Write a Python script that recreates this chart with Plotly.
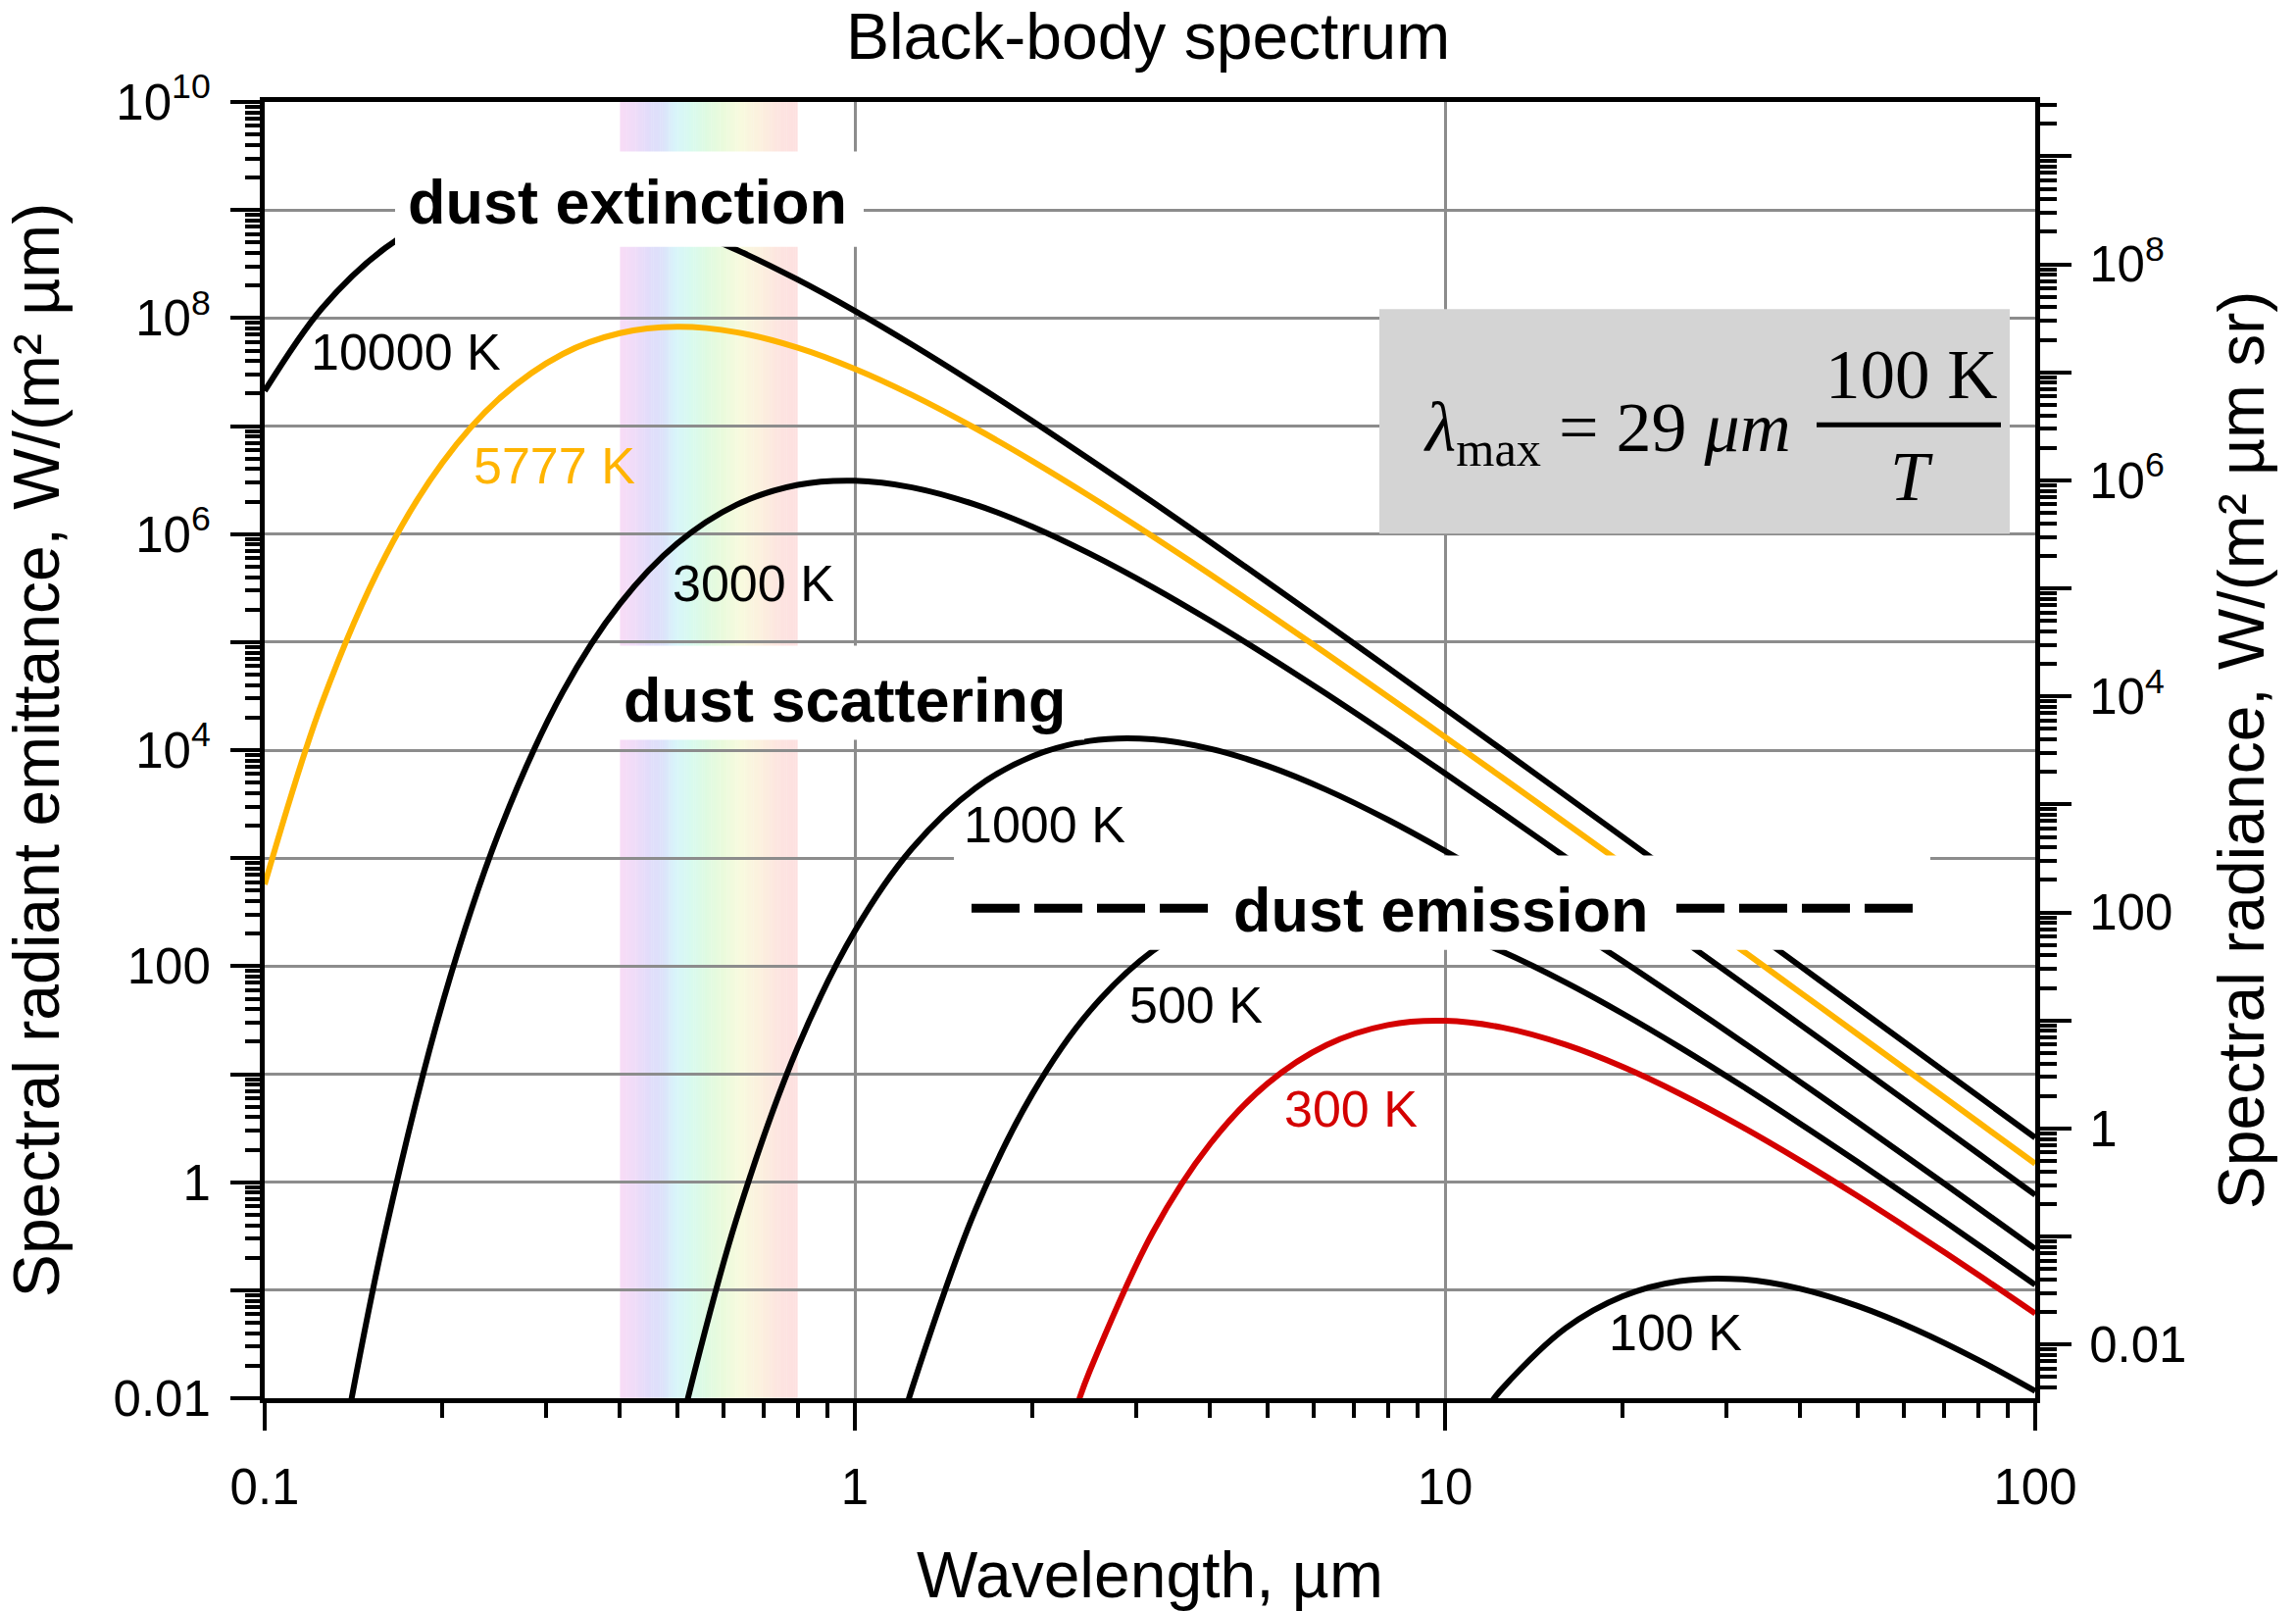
import math
import plotly.graph_objects as go

# ---------------------------------------------------------------------------
# Spectral radiant emittance of black bodies, W/(m^2 um), read at a set of
# wavelengths (um) for each temperature.
# ---------------------------------------------------------------------------
temps_K = [10000, 5777, 3000, 1000, 500, 300, 100]

lam_10000 = [0.1, 0.125, 0.16, 0.2, 0.25, 0.32, 0.4, 0.5, 0.63, 0.8, 1, 1.25, 1.6, 2, 2.5,
             3.2, 4, 5, 6.3, 8, 10, 12.5, 16, 20, 25, 32, 40, 50, 63, 80, 100]
m_10000 = [2.11e7, 1.229e8, 4.44e8, 8.79e8, 1.217e9, 1.258e9, 1.030e9, 7.14e8, 4.28e8, 2.266e8,
           1.164e8, 5.67e7, 2.447e7, 1.110e7, 4.92e6, 1.965e6, 8.44e5, 3.59e5, 1.470e5, 5.80e4,
           2.418e4, 1.005e4, 3794, 1568, 647, 242.6, 99.8, 41.0, 16.32, 6.29, 2.58]

lam_5777 = lam_10000
m_5777 = [571, 2.726e4, 6.20e5, 4.57e6, 1.806e7, 4.65e7, 7.24e7, 8.28e7, 7.38e7, 5.31e7,
          3.38e7, 1.936e7, 9.54e6, 4.73e6, 2.244e6, 9.47e5, 4.23e5, 1.855e5, 7.78e4, 3.127e4,
          1.323e4, 5563, 2119, 881.8, 365.8, 137.8, 56.9, 23.45, 9.35, 3.61, 1.483]

lam_3000 = [0.14, 0.16, 0.2, 0.25, 0.32, 0.4, 0.5, 0.63, 0.8, 1, 1.25, 1.6, 2, 2.5, 3.2,
            4, 5, 6.3, 8, 10, 12.5, 16, 20, 25, 32, 40, 50, 63, 80, 100]
m_3000 = [0.00923, 0.342, 45.0, 1786, 3.455e4, 2.267e5, 8.18e5, 1.864e6, 2.852e6, 3.118e6,
          2.703e6, 1.875e6, 1.169e6, 6.59e5, 3.208e5, 1.577e5, 7.44e4, 3.304e4, 1.391e4, 6080,
          2623, 1021, 431.5, 181.2, 68.99, 28.69, 11.90, 4.77, 1.849, 0.762]

lam_1000 = [0.52, 0.63, 0.8, 1, 1.25, 1.6, 2, 2.5, 3.2, 4, 5, 6.3, 8, 10, 12.5, 16, 20, 25,
            32, 40, 50, 63, 80, 100]
m_1000 = [0.00948, 0.455, 17.66, 211.1, 1229, 4438, 8790, 1.217e4, 1.258e4, 1.030e4, 7140,
          4278, 2266, 1164, 567.3, 244.7, 111.0, 49.24, 19.65, 8.44, 3.59, 1.470, 0.580, 0.2418]

lam_500 = [1.2, 1.25, 1.6, 2, 2.5, 3.2, 4, 5, 6.3, 8, 10, 12.5, 16, 20, 25, 32, 40, 50, 63, 80, 100]
m_500 = [0.00579, 0.01232, 0.5515, 6.598, 38.42, 138.7, 274.7, 380.3, 395.5, 321.8, 223.1,
         136.3, 70.79, 36.36, 17.73, 7.65, 3.47, 1.539, 0.6514, 0.2638, 0.1122]

lam_300 = [2.4, 2.5, 3.2, 4, 5, 6.3, 8, 10, 12.5, 16, 20, 25, 32, 40, 50, 63, 80, 100]
m_300 = [0.00985, 0.01786, 0.3455, 2.267, 8.18, 18.64, 28.52, 31.18, 27.03, 18.75, 11.69,
         6.59, 3.208, 1.577, 0.744, 0.3304, 0.1391, 0.0608]

lam_100 = [12, 12.5, 16, 20, 25, 32, 40, 50, 63, 80, 100]
m_100 = [0.00933, 0.01229, 0.04438, 0.0879, 0.1217, 0.1258, 0.1030, 0.0714, 0.04278, 0.02266, 0.01164]

# visible band, um
visible_um = [0.4, 0.8]

# tick labels
x_ticks = [0.1, 1, 10, 100]
x_ticktext = ["0.1", "1", "10", "100"]
y_ticktext = ["0.01", "", "1", "", "100", "", "10<sup>4</sup>", "", "10<sup>6</sup>", "",
              "10<sup>8</sup>", "", "10<sup>10</sup>"]
y2_ticktext = ["0.01", "", "1", "", "100", "", "10<sup>4</sup>", "", "10<sup>6</sup>", "",
               "10<sup>8</sup>", ""]

# ---------------------------------------------------------------------------
W, H = 2342, 1643
L, R, T, B = 270, 2076, 104, 1437          # plot-area edges in px


def px(x):
    return (x - L) / (R - L)


def py(y):
    return (B - y) / (B - T)


SANS = "Liberation Sans, Arial, Helvetica, sans-serif"
SERIF = "Liberation Serif, Times New Roman, serif"
BLACK = "#000000"
ORANGE = "#FFB400"
RED = "#D40000"

curves = [
    (10000, lam_10000, m_10000, BLACK),
    (5777, lam_5777, m_5777, ORANGE),
    (3000, lam_3000, m_3000, BLACK),
    (1000, lam_1000, m_1000, BLACK),
    (500, lam_500, m_500, BLACK),
    (300, lam_300, m_300, RED),
    (100, lam_100, m_100, BLACK),
]

fig = go.Figure()
for t, lam, m, col in curves:
    fig.add_trace(go.Scatter(
        x=lam, y=m, mode="lines", name=f"{t} K",
        line=dict(color=col, width=6, shape="spline", smoothing=1.0),
        showlegend=False, hoverinfo="x+y+name",
    ))

# the right-hand axis (spectral radiance) shares the curves' scale / pi
fig.add_trace(go.Scatter(x=[None], y=[None], yaxis="y2", showlegend=False, hoverinfo="skip"))

# --- pale rainbow band over the visible range -------------------------------
stops = [
    (0.000, (248, 220, 246)),
    (0.080, (240, 220, 248)),
    (0.160, (226, 220, 250)),
    (0.240, (220, 226, 250)),
    (0.310, (216, 244, 250)),
    (0.390, (216, 250, 240)),
    (0.480, (222, 250, 226)),
    (0.580, (234, 250, 220)),
    (0.680, (248, 250, 222)),
    (0.790, (252, 240, 222)),
    (0.900, (253, 228, 224)),
    (1.000, (253, 224, 224)),
]


def band_color(f):
    for (f0, c0), (f1, c1) in zip(stops[:-1], stops[1:]):
        if f <= f1:
            u = (f - f0) / (f1 - f0)
            return "rgb(%d,%d,%d)" % tuple(round(a + (b - a) * u) for a, b in zip(c0, c1))
    return "rgb(%d,%d,%d)" % stops[-1][1]


shapes = []
n_slices = 80
lo, hi = visible_um
for i in range(n_slices):
    x0 = lo * (hi / lo) ** (i / n_slices)
    x1 = lo * (hi / lo) ** ((i + 1.15) / n_slices) if i < n_slices - 1 else hi
    shapes.append(dict(type="rect", xref="x", yref="paper", x0=x0, x1=x1, y0=0, y1=1,
                       fillcolor=band_color((i + 0.5) / n_slices), line=dict(width=0),
                       layer="below"))


def box(x0, x1, y0, y1, color="white"):
    return dict(type="rect", xref="paper", yref="paper", x0=px(x0), x1=px(x1),
                y0=py(y1), y1=py(y0), fillcolor=color, line=dict(width=0), layer="above")


# label boxes
shapes.append(box(403, 881, 155, 253))
shapes.append(box(618, 1106, 663, 760))
shapes.append(box(973, 1969, 879, 976))
shapes.append(box(1407, 2050, 317, 548, color="#D4D4D4"))

# dashes either side of "dust emission"
for xa, xb in [(991, 1233), (1710, 1952)]:
    shapes.append(dict(type="line", xref="paper", yref="paper", x0=px(xa), x1=px(xb),
                       y0=py(933), y1=py(933), layer="above",
                       line=dict(color=BLACK, width=9, dash="49px,15px")))

# fraction bar of the Wien formula
shapes.append(dict(type="line", xref="paper", yref="paper", x0=px(1853), x1=px(2041),
                   y0=py(436), y1=py(436), layer="above", line=dict(color=BLACK, width=5)))

annotations = []


def text(s, x, y, size, color=BLACK, family=SANS, xanchor="center", yanchor="middle"):
    annotations.append(dict(text=s, xref="paper", yref="paper", x=px(x), y=py(y),
                            showarrow=False, xanchor=xanchor, yanchor=yanchor,
                            font=dict(family=family, size=size, color=color)))


text("<b>dust extinction</b>", 640, 207, 63)
text("<b>dust scattering</b>", 862, 719, 63)
text("<b>dust emission</b>", 1470, 935, 63)

label_pos = {10000: (414, 361), 5777: (565, 478), 3000: (768, 599), 1000: (1065, 847),
             500: (1220, 1033), 300: (1378, 1140), 100: (1709, 1369)}
for t, lam, m, col in curves:
    x, y = label_pos[t]
    text(f"{t} K", x, y, 52, color=col)

text("<i>λ</i><sub>max</sub> = 29 <i>μm</i>", 1450, 444, 72, family=SERIF, xanchor="left")
text("100 K", 1950, 384, 71, family=SERIF)
text("<i>T</i>", 1950, 489, 71, family=SERIF)


def minor_vals(e0, e1, lo_v=None, hi_v=None):
    vals = [k * 10 ** e for e in range(e0, e1) for k in range(2, 10)]
    if lo_v is not None:
        vals = [v for v in vals if lo_v <= v <= hi_v]
    return vals


tick_font = dict(family=SANS, size=51, color=BLACK)
title_font = dict(family=SANS, size=66, color=BLACK)
grid_col = "#8C8C8C"

fig.update_layout(
    width=W, height=H,
    margin=dict(l=L, r=W - R, t=T, b=H - B, pad=0),
    paper_bgcolor="white", plot_bgcolor="white",
    title=dict(text="Black-body spectrum", x=0.5, xref="container", xanchor="center",
               y=1 - 37 / H, yref="container", yanchor="middle", font=title_font),
    shapes=shapes, annotations=annotations,
    xaxis=dict(
        type="log", range=[-1, 2], showline=True, linewidth=5, linecolor=BLACK, mirror=True,
        tickmode="array", tickvals=x_ticks, ticktext=x_ticktext, ticks="outside",
        ticklen=28, tickwidth=4, tickcolor=BLACK, tickfont=tick_font, ticklabelstandoff=14,
        showgrid=True, gridcolor=grid_col, gridwidth=2.5, zeroline=False,
        minor=dict(tickmode="array", tickvals=minor_vals(-1, 2), ticks="outside",
                   ticklen=15, tickwidth=4, tickcolor=BLACK, showgrid=False),
        title=dict(text="Wavelength, µm", font=title_font, standoff=40),
    ),
    yaxis=dict(
        type="log", range=[-2, 10], showline=True, linewidth=5, linecolor=BLACK, mirror=False,
        tickmode="array", tickvals=[10 ** e for e in range(-2, 11)], ticktext=y_ticktext,
        ticks="outside", ticklen=30, tickwidth=4, tickcolor=BLACK, tickfont=tick_font,
        ticklabelstandoff=10,
        showgrid=True, gridcolor=grid_col, gridwidth=2.5, zeroline=False,
        minor=dict(tickmode="array", tickvals=minor_vals(-2, 10), ticks="outside",
                   ticklen=15, tickwidth=4, tickcolor=BLACK, showgrid=False),
        title=dict(text="Spectral radiant emittance, W/(m² µm)", font=title_font, standoff=45),
    ),
    yaxis2=dict(
        type="log", overlaying="y", side="right",
        range=[math.log10(0.01 / math.pi), math.log10(1e10 / math.pi)],
        showline=True, linewidth=5, linecolor=BLACK,
        tickmode="array", tickvals=[10 ** e for e in range(-2, 10)], ticktext=y2_ticktext,
        ticks="outside", ticklen=32, tickwidth=4, tickcolor=BLACK, tickfont=tick_font,
        ticklabelstandoff=8, showgrid=False, zeroline=False,
        minor=dict(tickmode="array",
                   tickvals=minor_vals(-3, 10, 0.01 / math.pi, 1e10 / math.pi),
                   ticks="outside", ticklen=17, tickwidth=4, tickcolor=BLACK, showgrid=False),
        title=dict(text="Spectral radiance, W/(m² µm sr)", font=title_font, standoff=35),
    ),
)

fig.write_html("out.html")
